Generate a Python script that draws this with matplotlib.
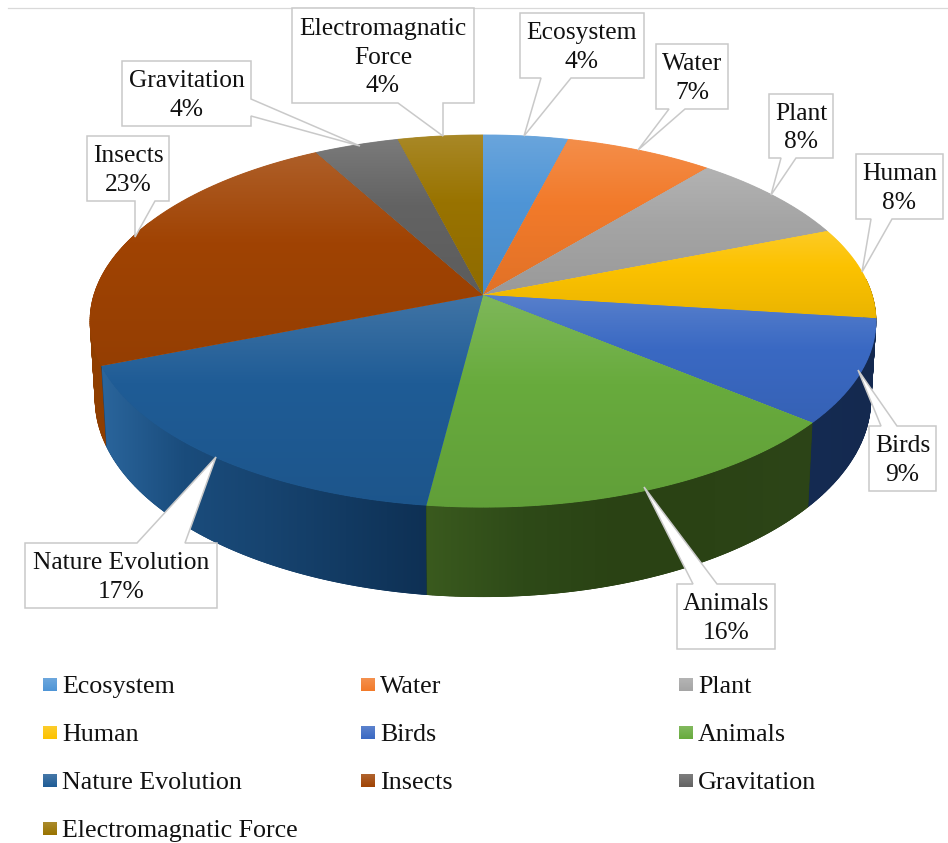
import matplotlib
matplotlib.use('Agg')
import matplotlib.pyplot as plt
from matplotlib.colors import to_rgb, LinearSegmentedColormap
from matplotlib.patches import Polygon
from matplotlib.collections import LineCollection
import numpy as np

plt.rcParams['font.family'] = ['Liberation Serif', 'DejaVu Sans']

categories = ['Ecosystem', 'Water', 'Plant', 'Human', 'Birds', 'Animals',
              'Nature Evolution', 'Insects', 'Gravitation', 'Electromagnatic Force']
values = [4, 7, 8, 8, 9, 16, 17, 23, 4, 4]

colors = ['#4f95d6', '#f27a2a', '#a5a5a5', '#fcc200', '#3a69c3',
          '#68ab3d', '#1f5c96', '#a04303', '#636363', '#997300']
wall_colors = [['#2a4a6b'] * 2, ['#793d15'] * 2, ['#525252'] * 2, ['#7f6000'] * 2,
               ['#14294f', '#152b52'],
               ['#2d4518', '#2b4315', '#2a4214', '#2e4a18', '#3a5a1e'],
               ['#0e3054', '#123a62', '#174470', '#1a4c7c', '#2a659c'],
               ['#8f3e00', '#8f3e00'],
               ['#525252'] * 2, ['#7f6000'] * 2]

# label boxes: left, right, top, bottom, pointer side, pointer from, pointer to, tip x, tip y
boxes = [
    (520, 644, 13, 78, 'b', 541, 571, 524, 136),
    (656, 728, 44, 109, 'b', 669, 685, 638, 150),
    (769, 833, 94, 158, 'b', 781, 796, 771, 195),
    (856, 943, 154, 219, 'b', 871, 892, 862, 272),
    (869, 936, 426, 491, 't', 881, 897, 858, 370),
    (677, 775, 584, 649, 't', 693, 717, 644, 487),
    (25, 217, 543, 608, 't', 137, 185, 216, 457),
    (87, 169, 136, 201, 'b', 135, 155, 135, 237),
    (122, 251, 61, 126, 'r', 99, 116, 360, 146),
    (292, 474, 8, 103, 'b', 398, 443, 443, 136),
]
label_text = ['Ecosystem', 'Water', 'Plant', 'Human', 'Birds', 'Animals',
              'Nature Evolution', 'Insects', 'Gravitation', 'Electromagnatic\nForce']

# pie projection in pixels, slight perspective
cx, cy = 483, 295
persp = 0.14
top_a, top_b = 389, 182.4
bot_a, bot_b, bot_y = 384, 194, 371


def project(theta, a, b, y0):
    x = np.sin(np.radians(theta))
    y = np.cos(np.radians(theta))
    w = 1 + persp * y
    return cx + a * x / w, y0 - b * y / w


def mix(c, other, t):
    c = np.array(to_rgb(c))
    return tuple(c + (np.array(other) - c) * t)


fig = plt.figure(figsize=(9.48, 8.43), dpi=100)
ax = fig.add_axes([0, 0, 1, 1])
ax.set_axis_off()

edges = np.cumsum([0] + values) * 3.6

# side wall, back to front so that the front pieces overlap
order = sorted(range(len(values)), key=lambda k: -abs((edges[k] + edges[k + 1]) / 2 - 180))
for i in order:
    t0 = max(edges[i], 85)
    t1 = min(edges[i + 1], 295)
    if t1 <= t0:
        continue
    ts = np.linspace(t0, t1, 80)
    xa, ya = project(ts, top_a, top_b, cy)
    xb, yb = project(ts, bot_a, bot_b, bot_y)
    xs = np.r_[xa, xb[::-1]]
    ys = np.r_[ya, yb[::-1]]
    cmap = LinearSegmentedColormap.from_list('w', wall_colors[i][::-1])
    # union of small quads, the arcs cross near the left and right rim
    for k in range(len(ts) - 1):
        ax.fill([xa[k], xa[k + 1], xb[k + 1], xb[k]], [ya[k], ya[k + 1], yb[k + 1], yb[k]],
                color=cmap(0.5), lw=0.6, zorder=1)
    im = ax.imshow(np.linspace(0, 1, 256).reshape(1, -1), cmap=cmap, aspect='auto',
                   vmin=0, vmax=1, extent=(xs.min(), xs.max(), ys.max(), ys.min()), zorder=1)
    im.set_clip_path(Polygon(np.c_[xs, ys], closed=True, transform=ax.transData))
    # smooth the lower rim
    pts = np.c_[xb, yb]
    segs = np.stack([pts[:-1], pts[1:]], axis=1)
    rel = (segs[:, :, 0].mean(axis=1) - xs.min()) / (xs.max() - xs.min())
    ax.add_collection(LineCollection(segs, colors=cmap(rel), linewidths=0.7, zorder=1))

# top face, every slice has its own vertical shading
for i in range(len(values)):
    ts = np.linspace(edges[i], edges[i + 1], 80)
    xa, ya = project(ts, top_a, top_b, cy)
    xs = np.r_[cx, xa]
    ys = np.r_[cy, ya]
    cmap = LinearSegmentedColormap.from_list('s', [
        (0, mix(colors[i], (1, 1, 1), 0.15)),
        (0.42, mix(colors[i], (1, 1, 1), 0.0)),
        (1, mix(colors[i], (0, 0, 0), 0.07))])
    ax.fill(xs, ys, color=colors[i], lw=0, zorder=3)
    im = ax.imshow(np.linspace(0, 1, 256).reshape(-1, 1), cmap=cmap, aspect='auto', vmin=0, vmax=1,
                   extent=(xs.min(), xs.max(), ys.max(), ys.min()), zorder=3)
    im.set_clip_path(Polygon(np.c_[xs, ys], closed=True, transform=ax.transData))
    # soft rim in the local shade hides the jagged clip edge
    pts = np.c_[xa, ya]
    segs = np.stack([pts[:-1], pts[1:]], axis=1)
    rel = (segs[:, :, 1].mean(axis=1) - ys.min()) / (ys.max() - ys.min())
    ax.add_collection(LineCollection(segs, colors=cmap(rel), linewidths=0.7, zorder=4))

# labels with their pointers
for i, box in enumerate(boxes):
    l, r, t, b, side, p0, p1, tx, ty = box
    if side == 'b':
        pts = [(l, t), (r, t), (r, b), (p1, b), (tx, ty), (p0, b), (l, b)]
    elif side == 't':
        pts = [(l, t), (p0, t), (tx, ty), (p1, t), (r, t), (r, b), (l, b)]
    else:
        pts = [(l, t), (r, t), (r, p0), (tx, ty), (r, p1), (r, b), (l, b)]
    ax.add_patch(Polygon(pts, closed=True, facecolor='white', edgecolor='#c9c9c9',
                         lw=1.1, joinstyle='miter', zorder=6))
    ax.text((l + r) / 2, (t + b) / 2 + 2, '%s\n%d%%' % (label_text[i], values[i]),
            ha='center', va='center', fontsize=18.4, color='#111111',
            linespacing=1.36, zorder=7)

# legend, filled row by row
legend_x = [43, 361, 679]
legend_y = [685, 733, 781, 829]
for i, name in enumerate(categories):
    lx = legend_x[i % 3]
    ly = legend_y[i // 3]
    cmap = LinearSegmentedColormap.from_list('k', [mix(colors[i], (1, 1, 1), 0.17), colors[i]])
    ax.imshow(np.linspace(0, 1, 32).reshape(-1, 1), cmap=cmap, aspect='auto',
              extent=(lx, lx + 14, ly + 6.5, ly - 6.5), zorder=3)
    ax.text(lx + 19, ly + 2, name, ha='left', va='center', fontsize=18.7, color='#111111')

ax.plot([8, 948], [7.5, 7.5], color='#d9d9d9', lw=0.9, zorder=0)

ax.set_xlim(0, 948)
ax.set_ylim(843, 0)
fig.savefig('out.png', dpi=100, facecolor='white')
